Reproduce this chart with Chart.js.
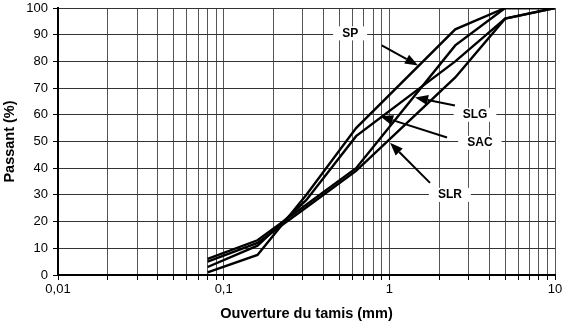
<!DOCTYPE html>
<html>
<head>
<meta charset="utf-8">
<script src="https://cdn.jsdelivr.net/npm/chart.js@4"></script>
<style>
  body { margin: 0; background: #fff; }
  canvas { display: block; }
</style>
</head>
<body>
<canvas id="myChart" width="577" height="321"></canvas>
<script>
// sieve openings (mm) and % passing for each sand
const sieves = [0.08, 0.16, 0.315, 0.63, 2.5, 5, 10];
const sp  = [1, 7.5, 30, 55, 92, 100, 100];
const sac = [3, 11, 28, 52, 80, 96, 100];
const slg = [6, 13, 26.3, 40, 86, 100, 100];
const slr = [5, 12, 25.3, 39, 74, 96, 100];

const yTicks = [0, 10, 20, 30, 40, 50, 60, 70, 80, 90, 100];
const xTicks = [0.01, 0.1, 1, 10];

// label position, arrow tail, arrow tip (in data units)
const labels = [
  { text: "SP",  at: [0.58, 90.5],  from: [0.90, 86], to: [1.49, 78.5] },
  { text: "SLG", at: [3.29, 60],  from: [2.49, 63.5], to: [1.43, 66.5] },
  { text: "SAC", at: [3.52, 49.5], from: [2.23, 51.5], to: [0.88, 59.5] },
  { text: "SLR", at: [2.32, 30],  from: [1.76, 34.5], to: [1.01, 49.5] }
];

const toPoints = (vals) => sieves.map((s, i) => ({ x: s, y: vals[i] }));

const FONT = "'Liberation Sans', Arial, sans-serif";

const makeSet = (name, vals) => ({
  label: name,
  data: toPoints(vals),
  borderColor: "#000",
  borderWidth: 2.4,
  pointRadius: 0,
  tension: 0,
  fill: false
});

const labelPlugin = {
  id: "curveLabels",
  afterDatasetsDraw(chart) {
    const ctx = chart.ctx;
    const xs = chart.scales.x;
    const ys = chart.scales.y;
    ctx.save();
    labels.forEach((l) => {
      const fx = xs.getPixelForValue(l.from[0]), fy = ys.getPixelForValue(l.from[1]);
      const tx = xs.getPixelForValue(l.to[0]), ty = ys.getPixelForValue(l.to[1]);
      const ang = Math.atan2(ty - fy, tx - fx);
      const headLen = 13, headW = 5;
      const bx = tx - Math.cos(ang) * headLen, by = ty - Math.sin(ang) * headLen;
      ctx.strokeStyle = "#000";
      ctx.lineWidth = 2;
      ctx.beginPath();
      ctx.moveTo(fx, fy);
      ctx.lineTo(bx, by);
      ctx.stroke();
      ctx.fillStyle = "#000";
      ctx.beginPath();
      ctx.moveTo(tx, ty);
      ctx.lineTo(bx + Math.sin(ang) * headW, by - Math.cos(ang) * headW);
      ctx.lineTo(bx - Math.sin(ang) * headW, by + Math.cos(ang) * headW);
      ctx.closePath();
      ctx.fill();

      const px = xs.getPixelForValue(l.at[0]), py = ys.getPixelForValue(l.at[1]);
      ctx.font = "bold 12px " + FONT;
      const w = ctx.measureText(l.text).width;
      ctx.fillStyle = "#fff";
      ctx.fillRect(px - w / 2 - 9, py - 7, w + 18, 14);
      ctx.fillStyle = "#000";
      ctx.textAlign = "center";
      ctx.textBaseline = "middle";
      ctx.fillText(l.text, px, py);
    });
    ctx.restore();
  }
};

const ctx = document.getElementById("myChart").getContext("2d");
const myChart = new Chart(ctx, {
  type: "line",
  data: {
    datasets: [makeSet("SP", sp), makeSet("SAC", sac), makeSet("SLG", slg), makeSet("SLR", slr)]
  },
  options: {
    responsive: false,
    animation: false,
    devicePixelRatio: 1,
    layout: { padding: { left: 0, right: 22, top: 8, bottom: 0 } },
    plugins: { legend: { display: false }, tooltip: { enabled: false } },
    scales: {
      x: {
        type: "logarithmic",
        min: 0.01,
        max: 10,
        afterBuildTicks(scale) {
          const t = [];
          [0.01, 0.1, 1].forEach((d) => {
            for (let k = 1; k < 10; k++) t.push({ value: +(d * k).toPrecision(3) });
          });
          t.push({ value: 10 });
          scale.ticks = t;
        },
        afterFit(scale) { scale.height = 46; },
        ticks: {
          autoSkip: false,
          maxRotation: 0,
          padding: 2,
          color: "#000",
          font: { family: FONT, size: 13 },
          callback: (v) => xTicks.includes(v) ? String(v).replace(".", ",") : ""
        },
        grid: { color: "#555", lineWidth: 1, tickLength: 5, tickColor: "#000" },
        border: { color: "#000", width: 2 },
        title: {
          display: true,
          text: "Ouverture du tamis (mm)",
          color: "#000",
          font: { family: FONT, size: 14.5, weight: "bold", lineHeight: 1 },
          padding: { top: 4, bottom: 0 }
        }
      },
      y: {
        min: 0,
        max: 100,
        afterBuildTicks(scale) { scale.ticks = yTicks.map((v) => ({ value: v })); },
        afterFit(scale) {
          scale.width = 58;
          scale.paddingTop = 0;
          scale.paddingBottom = 0;
        },
        ticks: {
          padding: 5,
          color: "#000",
          font: { family: FONT, size: 13 }
        },
        grid: { color: "#333", lineWidth: 1, tickLength: 5, tickColor: "#000" },
        border: { color: "#000", width: 2 },
        title: {
          display: true,
          text: "Passant (%)",
          color: "#000",
          font: { family: FONT, size: 14.5, weight: "bold" },
          padding: { top: 1, bottom: 4 }
        }
      }
    }
  },
  plugins: [labelPlugin]
});
</script>
</body>
</html>
